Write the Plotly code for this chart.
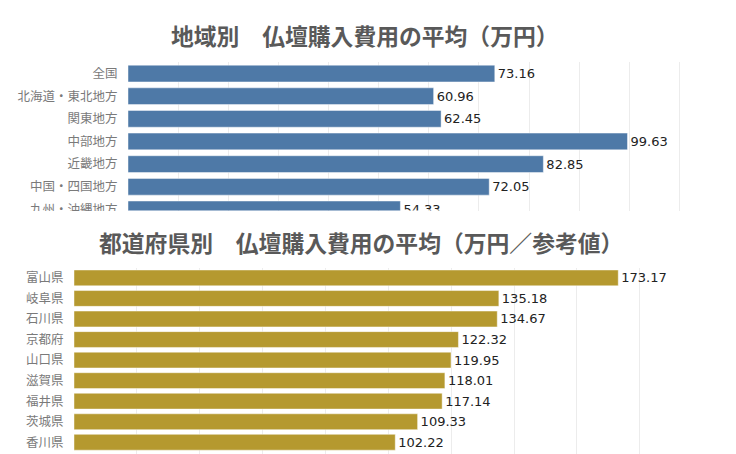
import plotly.graph_objects as go

# 地域別
regions = ["全国", "北海道・東北地方", "関東地方", "中部地方", "近畿地方", "中国・四国地方", "九州・沖縄地方"]
region_values = [73.16, 60.96, 62.45, 99.63, 82.85, 72.05, 54.33]

# 都道府県別（参考値）
prefs = ["富山県", "岐阜県", "石川県", "京都府", "山口県", "滋賀県", "福井県", "茨城県", "香川県", "愛知県"]
pref_values = [173.17, 135.18, 134.67, 122.32, 119.95, 118.01, 117.14, 109.33, 102.22, 100.0]

W, H = 736, 454
OFF = 8            # page body margin
KY = 462 / 454     # page is captured a little taller than the window
CJK = "Noto Sans CJK JP"


def px_x(v):
    return (v - OFF) / W


def px_y(v):
    return 1 - (v * KY - OFF) / H


fig = go.Figure()

fig.add_trace(go.Bar(
    x=region_values, y=regions, orientation="h",
    marker=dict(color="#4e79a7", line=dict(color="rgba(255,255,255,0.45)", width=1)),
    width=0.74,
    text=region_values, texttemplate="%{x:.2f}", textposition="outside",
    textfont=dict(family="DejaVu Sans", size=13, color="#222222"),
    xaxis="x", yaxis="y", showlegend=False,
))

fig.add_trace(go.Bar(
    x=pref_values, y=prefs, orientation="h",
    marker=dict(color="#b5992f", line=dict(color="rgba(255,255,255,0.45)", width=1)),
    width=0.77,
    text=pref_values, texttemplate="%{x:.2f}", textposition="outside",
    textfont=dict(family="DejaVu Sans", size=13, color="#222222"),
    xaxis="x2", yaxis="y2", showlegend=False,
))

common_x = dict(showticklabels=False, showgrid=True, gridcolor="#ececec", gridwidth=1,
                zeroline=False, showline=False, fixedrange=True)
common_y = dict(type="category", categoryorder="array", showgrid=False, zeroline=False,
                showline=False, ticks="outside", ticklen=7, tickcolor="rgba(0,0,0,0)",
                tickfont=dict(family=CJK, size=12.5, color="#7a7a7a"))

fig.update_layout(
    width=W, height=H,
    margin=dict(l=0, r=0, t=0, b=0),
    paper_bgcolor="white", plot_bgcolor="white",
    xaxis=dict(common_x, domain=[px_x(128), px_x(682)], range=[0, 110.5], dtick=10, anchor="y"),
    yaxis=dict(common_y, domain=[px_y(210), px_y(62)], categoryarray=regions,
               range=[6.05, -0.5], anchor="x"),
    xaxis2=dict(common_x, domain=[px_x(74), px_x(690)], range=[0, 196], dtick=20, anchor="y2"),
    yaxis2=dict(common_y, domain=[0, px_y(267)], categoryarray=prefs,
                range=[8.62, -0.5], anchor="x2"),
    annotations=[
        dict(text="<b>地域別　仏壇購入費用の平均（万円）</b>", x=px_x(365), y=px_y(35),
             xref="paper", yref="paper", showarrow=False, xanchor="center", yanchor="middle",
             font=dict(family=CJK, size=22.8, color="#595959")),
        dict(text="<b>都道府県別　仏壇購入費用の平均（万円／参考値）</b>", x=px_x(361), y=px_y(242),
             xref="paper", yref="paper", showarrow=False, xanchor="center", yanchor="middle",
             font=dict(family=CJK, size=22.8, color="#595959")),
    ],
    # hide the part of the cut-off label below the top panel
    shapes=[dict(type="rect", xref="paper", yref="paper", layer="above",
                 x0=0, x1=px_x(127), y0=px_y(226), y1=px_y(210.5),
                 fillcolor="white", line=dict(width=0))],
)

fig.write_html("out.html")
